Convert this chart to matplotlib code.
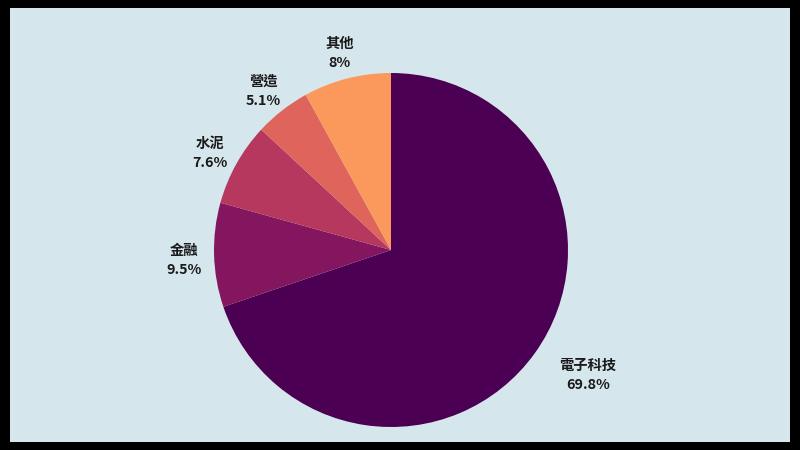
import matplotlib
matplotlib.use('Agg')
import matplotlib.pyplot as plt

plt.rcParams['font.family'] = ['Noto Sans CJK TC', 'DejaVu Sans']

labels = ['電子科技', '金融', '水泥', '營造', '其他']
shares = [69.8, 9.5, 7.6, 5.1, 8.0]
pct_text = ['69.8%', '9.5%', '7.6%', '5.1%', '8%']
colors = ['#4b0053', '#84165f', '#b6385f', '#df655c', '#fa995b']

W, H = 800, 450
fig = plt.figure(figsize=(8, 4.5), dpi=100)
fig.patch.set_facecolor('black')

# light panel inside the black frame
bg = fig.add_axes([10 / W, 8 / H, 780 / W, 434 / H])
bg.set_facecolor('#d6e6ed')
bg.set_xticks([])
bg.set_yticks([])
for s in bg.spines.values():
    s.set_visible(False)

# pie: centre (391, 250) px from top-left, radius 177 px
cx, cy, r = 391, H - 250, 177
ax = fig.add_axes([(cx - r) / W, (cy - r) / H, 2 * r / W, 2 * r / H])
ax.patch.set_visible(False)

lab = [f'{l}\n{p}' for l, p in zip(labels, pct_text)]
wedges, texts = ax.pie(shares, labels=lab, colors=colors, startangle=90,
                       counterclock=False, labeldistance=1.17,
                       wedgeprops=dict(linewidth=0),
                       textprops=dict(fontsize=10.3, fontweight='bold',
                                      color='#1a1a1a', ha='center',
                                      va='center', linespacing=1.45))
for t in texts:
    t.set_horizontalalignment('center')
    t.set_multialignment('center')
    x, y = t.get_position()
    t.set_position((x, y - 0.025))
# first label sits a bit further out in the reference
x, y = texts[0].get_position()
texts[0].set_position((x * 1.17, y))

ax.set_xlim(-1, 1)
ax.set_ylim(-1, 1)
ax.set_aspect('equal')
ax.axis('off')

fig.savefig('out.png', dpi=100, facecolor=fig.get_facecolor())
